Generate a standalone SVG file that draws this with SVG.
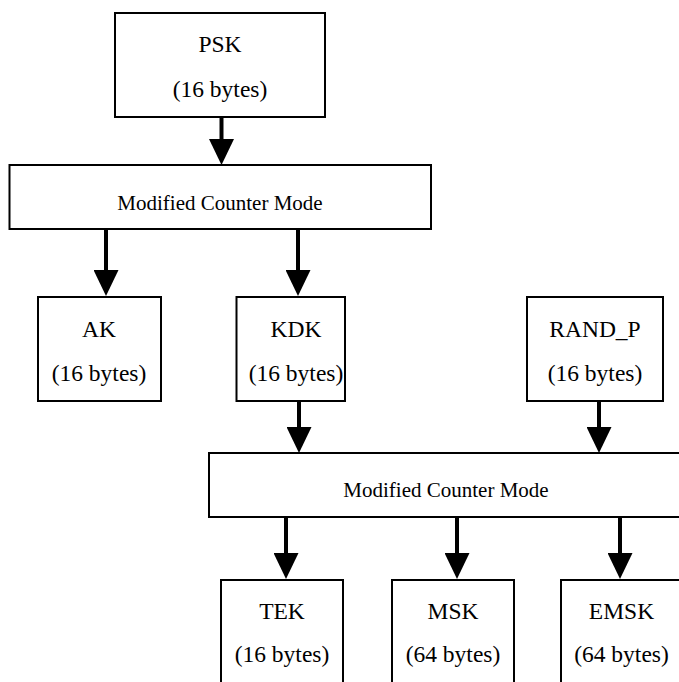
<svg xmlns="http://www.w3.org/2000/svg" width="679" height="682" viewBox="0 0 679 682">
  <style>
    .box { fill: #ffffff; stroke: #000000; stroke-width: 2; }
    .lbl { font-size: 23.5px; fill: #000000; text-anchor: middle; }
    .op { font-size: 21px; fill: #000000; text-anchor: middle; }
    .arrow { stroke: #000000; stroke-width: 4; fill: none; marker-end: url(#head); }
  </style>
  <defs>
    <marker id="head" markerUnits="userSpaceOnUse" viewBox="0 0 26 25" refX="0" refY="12.5" markerWidth="26" markerHeight="25" orient="auto">
      <path d="M0,0 L26,12.5 L0,25 Z" fill="#000000"/>
    </marker>
  </defs>

  <rect width="679" height="682" fill="#ffffff"/>

  <!-- connectors -->
  <g id="connectors">
    <line class="arrow" x1="221.5" y1="107" x2="221.5" y2="139"/>
    <line class="arrow" x1="106" y1="229" x2="106" y2="270"/>
    <line class="arrow" x1="298" y1="229" x2="298" y2="270"/>
    <line class="arrow" x1="299" y1="392" x2="299" y2="427"/>
    <line class="arrow" x1="599" y1="401" x2="599" y2="427"/>
    <line class="arrow" x1="286" y1="517" x2="286" y2="553"/>
    <line class="arrow" x1="457" y1="517" x2="457" y2="553"/>
    <line class="arrow" x1="620" y1="517" x2="620" y2="553"/>
  </g>

  <g font-family="'Liberation Serif', 'Times New Roman', 'DejaVu Serif', serif">
    <g id="psk">
      <rect class="box" x="115" y="13" width="210" height="104"/>
      <text class="lbl" x="220" y="52">PSK</text>
      <text class="lbl" x="220" y="97">(16 bytes)</text>
    </g>

    <g id="mcm-1">
      <rect class="box" x="9.5" y="165" width="421.5" height="64"/>
      <text class="op" x="220" y="210">Modified Counter Mode</text>
    </g>

    <g id="ak">
      <rect class="box" x="38" y="297" width="123" height="104"/>
      <text class="lbl" x="99" y="337">AK</text>
      <text class="lbl" x="99" y="381">(16 bytes)</text>
    </g>

    <g id="kdk">
      <rect class="box" x="236.5" y="297" width="108.5" height="104"/>
      <text class="lbl" x="296" y="337">KDK</text>
      <text class="lbl" x="296" y="381">(16 bytes)</text>
    </g>

    <g id="rand-p">
      <rect class="box" x="527" y="297" width="136" height="104"/>
      <text class="lbl" x="595" y="337">RAND_P</text>
      <text class="lbl" x="595" y="381">(16 bytes)</text>
    </g>

    <g id="mcm-2">
      <rect class="box" x="209" y="453" width="474" height="64"/>
      <text class="op" x="446" y="497">Modified Counter Mode</text>
    </g>

    <g id="tek">
      <rect class="box" x="221" y="580" width="122" height="110"/>
      <text class="lbl" x="282" y="619">TEK</text>
      <text class="lbl" x="282" y="662">(16 bytes)</text>
    </g>

    <g id="msk">
      <rect class="box" x="392" y="580" width="122" height="110"/>
      <text class="lbl" x="453" y="619">MSK</text>
      <text class="lbl" x="453" y="662">(64 bytes)</text>
    </g>

    <g id="emsk">
      <rect class="box" x="561" y="580" width="122" height="110"/>
      <text class="lbl" x="621.5" y="619">EMSK</text>
      <text class="lbl" x="621.5" y="662">(64 bytes)</text>
    </g>
  </g>
</svg>
